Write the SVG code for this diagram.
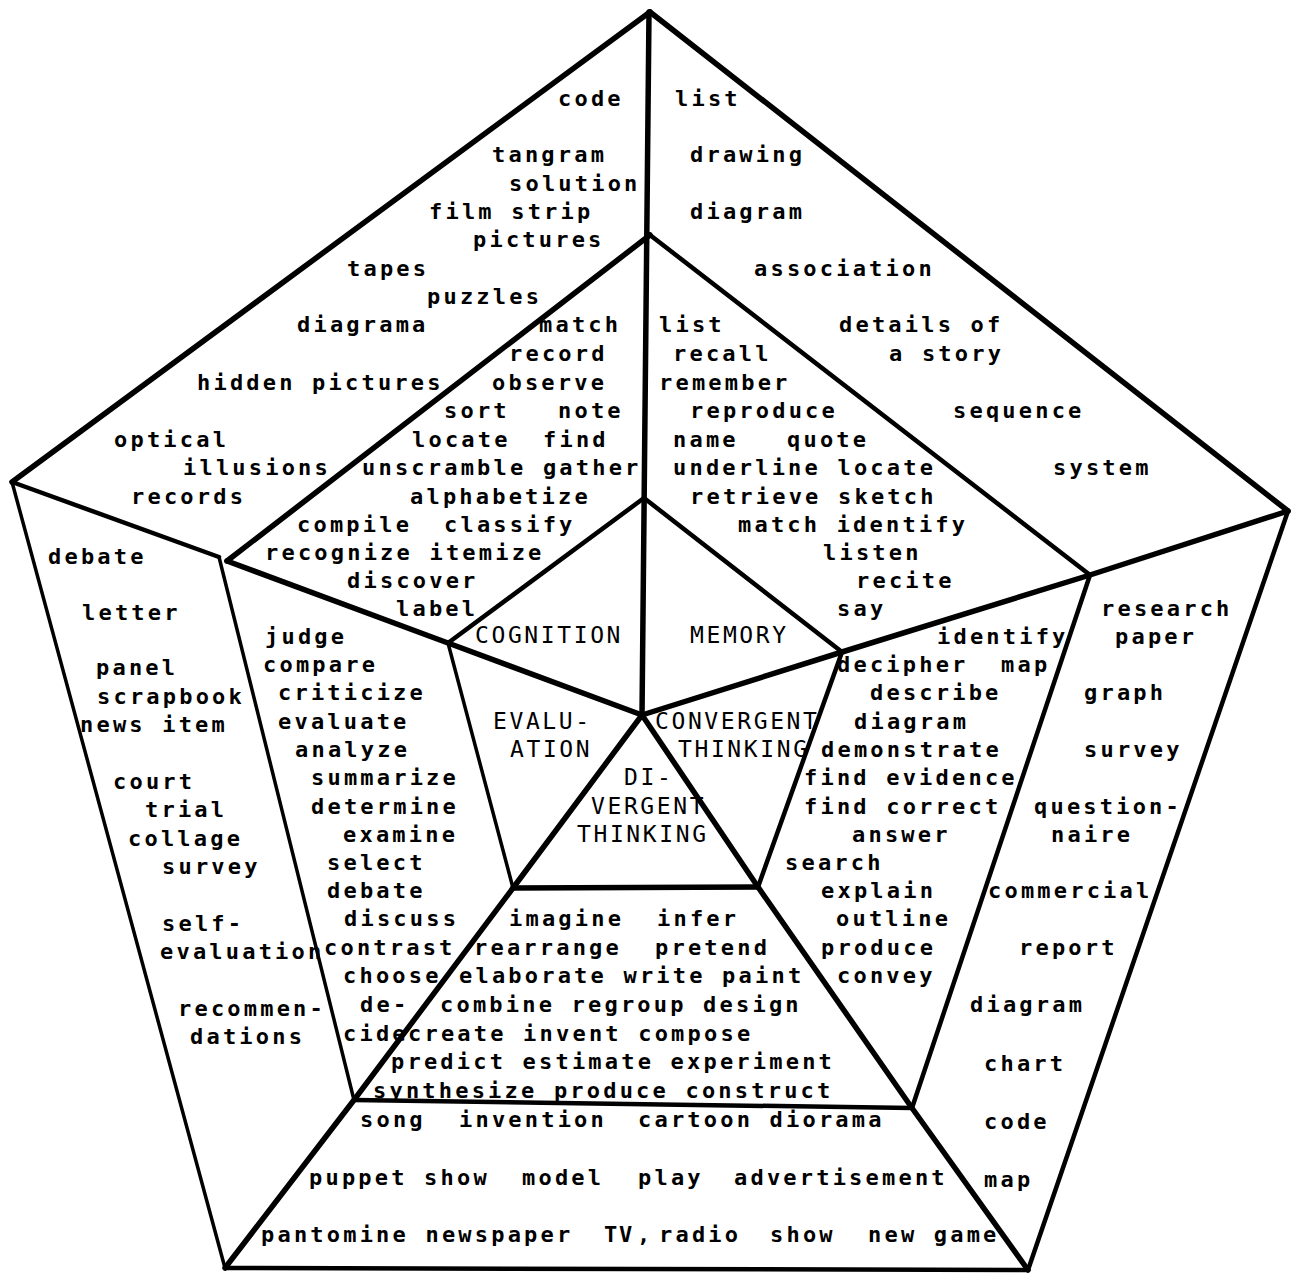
<svg xmlns="http://www.w3.org/2000/svg" width="1291" height="1275" viewBox="0 0 1291 1275">
<style>
.bg{fill:#fff}
.l{fill:none;stroke:#000;stroke-linecap:round;stroke-linejoin:round}
.w6{stroke-width:5.5}
.w5{stroke-width:4.5}
.w4{stroke-width:3.5}
text{font-family:"DejaVu Sans Mono","Liberation Mono",monospace;fill:#000}
.t{font-size:22px;font-weight:bold;letter-spacing:3.2px}
.c{font-size:23px;font-weight:normal;letter-spacing:2.6px}
</style>
<rect class="bg" x="0" y="0" width="1291" height="1275"/>
<g id="connectors">
<path class="l w6" d="M650,12 L1288,511"/>
<path class="l w5" d="M1288,511 L1028,1270"/>
<path class="l w5" d="M1028,1270 L225,1268"/>
<path class="l w4" d="M225,1268 L12,482"/>
<path class="l w6" d="M12,482 L650,12"/>
<path class="l w6" d="M649,12 L642,715"/>
<path class="l w6" d="M1288,511 L1090,575 L842,652 L642,715"/>
<path class="l w5" d="M12,482 L219,557"/>
<path class="l w6" d="M227,561 L448,643 L642,715"/>
<path class="l w6" d="M225,1268 L354,1100 L513,888 L642,715"/>
<path class="l w6" d="M1028,1270 L912,1108 L758,887 L642,715"/>
<path class="l w5" d="M650,235 L1090,575"/>
<path class="l w5" d="M1090,575 L912,1108"/>
<path class="l w5" d="M912,1108 L354,1100"/>
<path class="l w4" d="M354,1100 L219,557"/>
<path class="l w6" d="M227,561 L650,235"/>
<path class="l w5" d="M644,498 L448,643"/>
<path class="l w5" d="M644,498 L842,652"/>
<path class="l w5" d="M842,652 L758,887"/>
<path class="l w6" d="M758,887 L513,888"/>
<path class="l w4" d="M513,888 L448,643"/>
</g>
<g id="cognition-products">
<text class="t" x="558" y="106">code</text>
<text class="t" x="492" y="162">tangram</text>
<text class="t" x="509" y="191">solution</text>
<text class="t" x="429" y="219">film strip</text>
<text class="t" x="473" y="247">pictures</text>
<text class="t" x="347" y="276">tapes</text>
<text class="t" x="427" y="304">puzzles</text>
<text class="t" x="297" y="332">diagrama</text>
<text class="t" x="197" y="390">hidden pictures</text>
<text class="t" x="114" y="447">optical</text>
<text class="t" x="183" y="475">illusions</text>
<text class="t" x="131" y="504">records</text>
</g>
<g id="cognition-verbs">
<text class="t" x="539" y="332">match</text>
<text class="t" x="509" y="361">record</text>
<text class="t" x="492" y="390">observe</text>
<text class="t" x="444" y="418">sort</text>
<text class="t" x="558" y="418">note</text>
<text class="t" x="412" y="447">locate</text>
<text class="t" x="543" y="447">find</text>
<text class="t" x="362" y="475">unscramble gather</text>
<text class="t" x="410" y="504">alphabetize</text>
<text class="t" x="297" y="532">compile</text>
<text class="t" x="444" y="532">classify</text>
<text class="t" x="265" y="560">recognize itemize</text>
<text class="t" x="347" y="588">discover</text>
<text class="t" x="396" y="616">label</text>
</g>
<g id="memory-products">
<text class="t" x="675" y="106">list</text>
<text class="t" x="690" y="162">drawing</text>
<text class="t" x="690" y="219">diagram</text>
<text class="t" x="754" y="276">association</text>
<text class="t" x="839" y="332">details of</text>
<text class="t" x="889" y="361">a story</text>
<text class="t" x="953" y="418">sequence</text>
<text class="t" x="1053" y="475">system</text>
</g>
<g id="memory-verbs">
<text class="t" x="659" y="332">list</text>
<text class="t" x="673" y="361">recall</text>
<text class="t" x="659" y="390">remember</text>
<text class="t" x="690" y="418">reproduce</text>
<text class="t" x="673" y="447">name</text>
<text class="t" x="787" y="447">quote</text>
<text class="t" x="673" y="475">underline locate</text>
<text class="t" x="690" y="504">retrieve sketch</text>
<text class="t" x="738" y="532">match identify</text>
<text class="t" x="823" y="560">listen</text>
<text class="t" x="856" y="588">recite</text>
<text class="t" x="837" y="616">say</text>
</g>
<g id="evaluation-products">
<text class="t" x="48" y="564">debate</text>
<text class="t" x="82" y="620">letter</text>
<text class="t" x="96" y="675">panel</text>
<text class="t" x="97" y="704">scrapbook</text>
<text class="t" x="80" y="732">news item</text>
<text class="t" x="113" y="789">court</text>
<text class="t" x="145" y="817">trial</text>
<text class="t" x="128" y="846">collage</text>
<text class="t" x="162" y="874">survey</text>
<text class="t" x="162" y="931">self-</text>
<text class="t" x="160" y="959">evaluation</text>
<text class="t" x="178" y="1016">recommen-</text>
<text class="t" x="190" y="1044">dations</text>
</g>
<g id="evaluation-verbs">
<text class="t" x="265" y="644">judge</text>
<text class="t" x="263" y="672">compare</text>
<text class="t" x="278" y="700">criticize</text>
<text class="t" x="278" y="729">evaluate</text>
<text class="t" x="295" y="757">analyze</text>
<text class="t" x="311" y="785">summarize</text>
<text class="t" x="311" y="814">determine</text>
<text class="t" x="343" y="842">examine</text>
<text class="t" x="327" y="870">select</text>
<text class="t" x="327" y="898">debate</text>
<text class="t" x="344" y="926">discuss</text>
<text class="t" x="324" y="955">contrast</text>
<text class="t" x="343" y="983">choose</text>
<text class="t" x="360" y="1012">de-</text>
<text class="t" x="343" y="1041">cide</text>
</g>
<g id="centre-labels">
<text class="c" x="475" y="643">COGNITION</text>
<text class="c" x="690" y="643">MEMORY</text>
<text class="c" x="493" y="729">EVALU-</text>
<text class="c" x="510" y="757">ATION</text>
<text class="c" x="655" y="729">CONVERGENT</text>
<text class="c" x="678" y="757">THINKING</text>
<text class="c" x="624" y="785">DI-</text>
<text class="c" x="591" y="814">VERGENT</text>
<text class="c" x="577" y="842">THINKING</text>
</g>
<g id="convergent-verbs">
<text class="t" x="937" y="644">identify</text>
<text class="t" x="837" y="672">decipher</text>
<text class="t" x="1001" y="672">map</text>
<text class="t" x="870" y="700">describe</text>
<text class="t" x="854" y="729">diagram</text>
<text class="t" x="821" y="757">demonstrate</text>
<text class="t" x="804" y="785">find evidence</text>
<text class="t" x="804" y="814">find correct</text>
<text class="t" x="852" y="842">answer</text>
<text class="t" x="785" y="870">search</text>
<text class="t" x="821" y="898">explain</text>
<text class="t" x="836" y="926">outline</text>
<text class="t" x="821" y="955">produce</text>
<text class="t" x="837" y="983">convey</text>
</g>
<g id="convergent-products">
<text class="t" x="1101" y="616">research</text>
<text class="t" x="1115" y="644">paper</text>
<text class="t" x="1084" y="700">graph</text>
<text class="t" x="1084" y="757">survey</text>
<text class="t" x="1034" y="814">question-</text>
<text class="t" x="1051" y="842">naire</text>
<text class="t" x="988" y="898">commercial</text>
<text class="t" x="1019" y="955">report</text>
<text class="t" x="970" y="1012">diagram</text>
<text class="t" x="984" y="1071">chart</text>
<text class="t" x="984" y="1129">code</text>
<text class="t" x="984" y="1187">map</text>
</g>
<g id="divergent-verbs">
<text class="t" x="509" y="926">imagine</text>
<text class="t" x="657" y="926">infer</text>
<text class="t" x="474" y="955">rearrange</text>
<text class="t" x="655" y="955">pretend</text>
<text class="t" x="459" y="983">elaborate write paint</text>
<text class="t" x="440" y="1012">combine regroup design</text>
<text class="t" x="408" y="1041">create invent compose</text>
<text class="t" x="391" y="1069">predict estimate experiment</text>
<text class="t" x="373" y="1098">synthesize produce construct</text>
</g>
<g id="divergent-products">
<text class="t" x="360" y="1127">song</text>
<text class="t" x="459" y="1127">invention</text>
<text class="t" x="638" y="1127">cartoon diorama</text>
<text class="t" x="309" y="1185">puppet show</text>
<text class="t" x="522" y="1185">model</text>
<text class="t" x="638" y="1185">play</text>
<text class="t" x="734" y="1185">advertisement</text>
<text class="t" x="261" y="1242">pantomine newspaper</text>
<text class="t" x="604 619 637" y="1242" style="letter-spacing:0">TV,</text>
<text class="t" x="659" y="1242">radio</text>
<text class="t" x="770" y="1242">show</text>
<text class="t" x="868" y="1242">new game</text>
</g>
</svg>
